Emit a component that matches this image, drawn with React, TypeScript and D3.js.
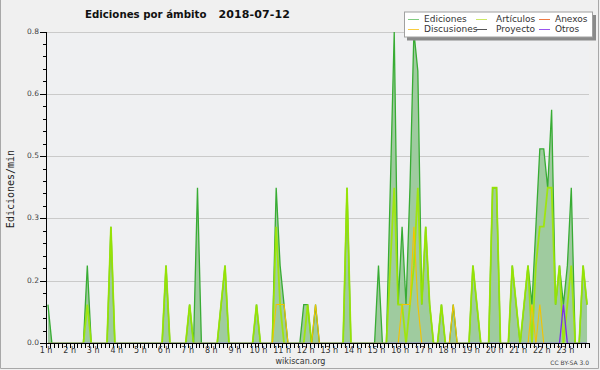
import React from 'react';
import * as d3 from 'd3';

// 10-minute bins, starting at 1 h (one row per hour)
const ediciones = [
  0.1, 0, 0, 0, 0, 0,
  0, 0, 0, 0, 0.2, 0,
  0, 0, 0, 0, 0.3, 0,
  0, 0, 0, 0, 0, 0,
  0, 0, 0, 0, 0, 0,
  0.2, 0, 0, 0, 0, 0,
  0.1, 0, 0.4, 0, 0, 0,
  0, 0, 0.1, 0.2, 0, 0,
  0, 0, 0, 0, 0, 0.1,
  0, 0, 0, 0, 0.4, 0.2,
  0.1, 0, 0, 0, 0, 0.1,
  0.1, 0, 0.1, 0, 0, 0,
  0, 0, 0, 0, 0.4, 0,
  0, 0, 0, 0, 0, 0,
  0.2, 0, 0, 0.4, 0.8, 0.1,
  0.3, 0.1, 0.4, 0.8, 0.7, 0.1,
  0.3, 0.1, 0, 0, 0.1, 0,
  0, 0.1, 0, 0, 0, 0,
  0.2, 0.1, 0, 0, 0, 0.4,
  0.4, 0, 0, 0, 0.2, 0.1,
  0, 0.1, 0.2, 0.1, 0.3, 0.5,
  0.5, 0.4, 0.6, 0.1, 0.2, 0.1,
  0.2, 0.4, 0, 0, 0.2, 0.1,
];

const articulos = [
  0, 0, 0, 0, 0, 0,
  0, 0, 0, 0, 0.1, 0,
  0, 0, 0, 0, 0.3, 0,
  0, 0, 0, 0, 0, 0,
  0, 0, 0, 0, 0, 0,
  0.2, 0, 0, 0, 0, 0,
  0.1, 0, 0, 0, 0, 0,
  0, 0, 0.1, 0.2, 0, 0,
  0, 0, 0, 0, 0, 0.1,
  0, 0, 0, 0, 0.3, 0.1,
  0, 0, 0, 0, 0, 0,
  0.1, 0, 0, 0, 0, 0,
  0, 0, 0, 0, 0.4, 0,
  0, 0, 0, 0, 0, 0,
  0, 0, 0, 0.2, 0.4, 0.1,
  0.1, 0, 0.1, 0.2, 0.4, 0.1,
  0.3, 0.1, 0, 0, 0.1, 0,
  0, 0, 0, 0, 0, 0,
  0.2, 0.1, 0, 0, 0, 0.4,
  0.4, 0, 0, 0, 0.2, 0.1,
  0, 0.1, 0.2, 0, 0.2, 0.3,
  0.3, 0.4, 0.4, 0.1, 0.2, 0,
  0.1, 0.2, 0, 0, 0.2, 0.1,
];

const discusiones = [
  0, 0, 0, 0, 0, 0,
  0, 0, 0, 0, 0, 0,
  0, 0, 0, 0, 0, 0,
  0, 0, 0, 0, 0, 0,
  0, 0, 0, 0, 0, 0,
  0, 0, 0, 0, 0, 0,
  0, 0, 0, 0, 0, 0,
  0, 0, 0, 0, 0, 0,
  0, 0, 0, 0, 0, 0,
  0, 0, 0, 0, 0.1, 0.1,
  0.1, 0, 0, 0, 0, 0,
  0, 0, 0.1, 0, 0, 0,
  0, 0, 0, 0, 0, 0,
  0, 0, 0, 0, 0, 0,
  0, 0, 0, 0, 0, 0,
  0.1, 0.1, 0.1, 0.3, 0.1, 0,
  0, 0, 0, 0, 0, 0,
  0, 0.1, 0, 0, 0, 0,
  0, 0, 0, 0, 0, 0,
  0, 0, 0, 0, 0, 0,
  0, 0, 0, 0.1, 0, 0.1,
  0, 0, 0, 0, 0, 0,
  0, 0, 0, 0, 0, 0,
];

const otros = [
  0, 0, 0, 0, 0, 0,
  0, 0, 0, 0, 0, 0,
  0, 0, 0, 0, 0, 0,
  0, 0, 0, 0, 0, 0,
  0, 0, 0, 0, 0, 0,
  0, 0, 0, 0, 0, 0,
  0, 0, 0, 0, 0, 0,
  0, 0, 0, 0, 0, 0,
  0, 0, 0, 0, 0, 0,
  0, 0, 0, 0, 0, 0,
  0, 0, 0, 0, 0, 0,
  0, 0, 0, 0, 0, 0,
  0, 0, 0, 0, 0, 0,
  0, 0, 0, 0, 0, 0,
  0, 0, 0, 0, 0, 0,
  0, 0, 0, 0, 0, 0,
  0, 0, 0, 0, 0, 0,
  0, 0, 0, 0, 0, 0,
  0, 0, 0, 0, 0, 0,
  0, 0, 0, 0, 0, 0,
  0, 0, 0, 0, 0, 0,
  0, 0, 0, 0, 0, 0.1,
  0, 0, 0, 0, 0, 0,
];

const hourTicks = [1, 2, 3, 4, 5, 6, 7, 8, 9, 10, 11, 12, 13, 14, 15, 16, 17, 18, 19, 20, 21, 22, 23];
const yMajorTicks = [0, 0.16, 0.32, 0.48, 0.64, 0.8];

const legendNames = ['Ediciones', 'Discusiones', 'Artículos', 'Proyecto', 'Anexos', 'Otros'];
const legendColors = ['#80cc80', '#f8cc40', '#cce866', '#555555', '#ee7a44', '#9a55ee'];

const W = 600;
const H = 370;
const L = 46, R = 589, T = 32, B = 343;

export default function App() {
  const x = d3.scaleLinear().domain([1, 24]).range([L, R]);
  const y = d3.scaleLinear().domain([0, 0.8]).range([B + 0.5, T]);
  const tAt = (i: number) => 1 + (i + 0.5) / 6;
  const lineGen = d3.line<number>().x((_, i) => x(tAt(i))).y((d) => y(d));
  const areaGen = d3.area<number>().x((_, i) => x(tAt(i))).y0(y(0)).y1((d) => y(d));
  const fmt = d3.format('.1f');
  const yMinor = d3.range(0, 0.8001, 0.032);
  const xMinor = d3.range(0, 139).map((i) => 1 + i / 6);

  const legendCols = [408, 476, 539];
  const legendTextX = [424, 496, 555];
  const legendRows = [19, 29];
  const py = (v: number) => Math.round(y(v) - 0.5) + 0.5;

  return (
    <svg width={W} height={H} style={{ position: 'absolute', left: 0, top: 0 }} xmlns="http://www.w3.org/2000/svg">
      <defs>
        <clipPath id="plotclip">
          <rect x={L} y={T - 3} width={R - L} height={B - T + 3} />
        </clipPath>
      </defs>
      <rect x={0} y={0} width={W} height={H} fill="#f0f0f0" />
      <rect x={L} y={T} width={R - L} height={B - T} fill="#eff0f2" />
      {/* frame */}
      <path d={`M0.5,0 V368.5 H598.5 V0`} fill="none" stroke="#a8a8a8" strokeWidth={1} />

      {/* grid */}
      {yMajorTicks.map((v) => (
        <line key={'g' + v} x1={L} x2={R} y1={py(v)} y2={py(v)} stroke="#cacaca" strokeWidth={1} />
      ))}

      <g clipPath="url(#plotclip)">
        <path d={areaGen(ediciones) || ''} fill="#9fcb9f" />
        <path d={lineGen(ediciones) || ''} fill="none" stroke="#38ac34" strokeWidth={1.3} />
        <path d={lineGen(articulos) || ''} fill="none" stroke="#9ee800" strokeWidth={1.8} strokeOpacity={0.9} />
        <path d={lineGen(discusiones) || ''} fill="none" stroke="#f4c300" strokeWidth={1.1} />
        <path d={lineGen(otros) || ''} fill="none" stroke="#7a2ee8" strokeWidth={1.3} />
      </g>

      {/* y axis */}
      <line x1={L + 0.5} x2={L + 0.5} y1={T} y2={B + 1} stroke="#000" strokeWidth={1} />
      {yMinor.map((v, i) => (
        <line key={'ym' + i} x1={L - 3} x2={L} y1={py(v)} y2={py(v)} stroke="#000" strokeWidth={1} />
      ))}
      {yMajorTicks.map((v) => (
        <g key={'yl' + v}>
          <line x1={L - 6} x2={L} y1={py(v)} y2={py(v)} stroke="#000" strokeWidth={1} />
          <text x={L - 7} y={y(v) + 1.5} textAnchor="end" fontFamily="DejaVu Sans" fontSize={7.5} fill="#444">{fmt(v)}</text>
        </g>
      ))}

      {/* x axis */}
      <line x1={L} x2={R + 1} y1={B + 0.5} y2={B + 0.5} stroke="#000" strokeWidth={1} />
      {xMinor.map((h, i) => (
        <line key={'xm' + i} x1={Math.round(x(h)) + 0.5} x2={Math.round(x(h)) + 0.5} y1={B} y2={B + 5} stroke="#000" strokeWidth={1} />
      ))}
      {hourTicks.map((h) => (
        <text key={'xl' + h} x={x(h)} y={352.5} textAnchor="middle" fontFamily="DejaVu Sans" fontSize={8} fill="#333">{`${h} h`}</text>
      ))}

      {/* titles */}
      <text x={85} y={18} fontFamily="DejaVu Sans" fontWeight="bold" fontSize={11} fill="#111" textLength={121.5} lengthAdjust="spacingAndGlyphs">Ediciones por ámbito</text>
      <text x={218.5} y={18} fontFamily="DejaVu Sans" fontWeight="bold" fontSize={11} fill="#111" textLength={71.5} lengthAdjust="spacing">2018-07-12</text>
      <text transform={`translate(13.5,189) rotate(-90)`} textAnchor="middle" fontFamily="DejaVu Sans Mono" fontSize={10} fill="#222">Ediciones/min</text>
      <text x={300.5} y={363.5} textAnchor="middle" fontFamily="DejaVu Sans" fontSize={8} fill="#333">wikiscan.org</text>
      <text x={589} y={365} textAnchor="end" fontFamily="DejaVu Sans" fontSize={6} fill="#444">CC BY-SA 3.0</text>

      {/* legend */}
      <rect x={407} y={15} width={189} height={25.5} fill="#8a8a8a" />
      <rect x={404.5} y={12} width={188} height={25} fill="#ffffff" stroke="#a0a0a0" strokeWidth={1} />
      {legendNames.map((name, i) => {
        const col = Math.floor(i / 2);
        const row = i % 2;
        const lx = legendCols[col];
        const ly = legendRows[row];
        return (
          <g key={name}>
            <line x1={lx} x2={lx + 11} y1={ly + 0.5} y2={ly + 0.5} stroke={legendColors[i]} strokeWidth={1} />
            <text x={legendTextX[col]} y={ly + 3} fontFamily="DejaVu Sans" fontSize={9} fill="#333">{name}</text>
          </g>
        );
      })}
    </svg>
  );
}
